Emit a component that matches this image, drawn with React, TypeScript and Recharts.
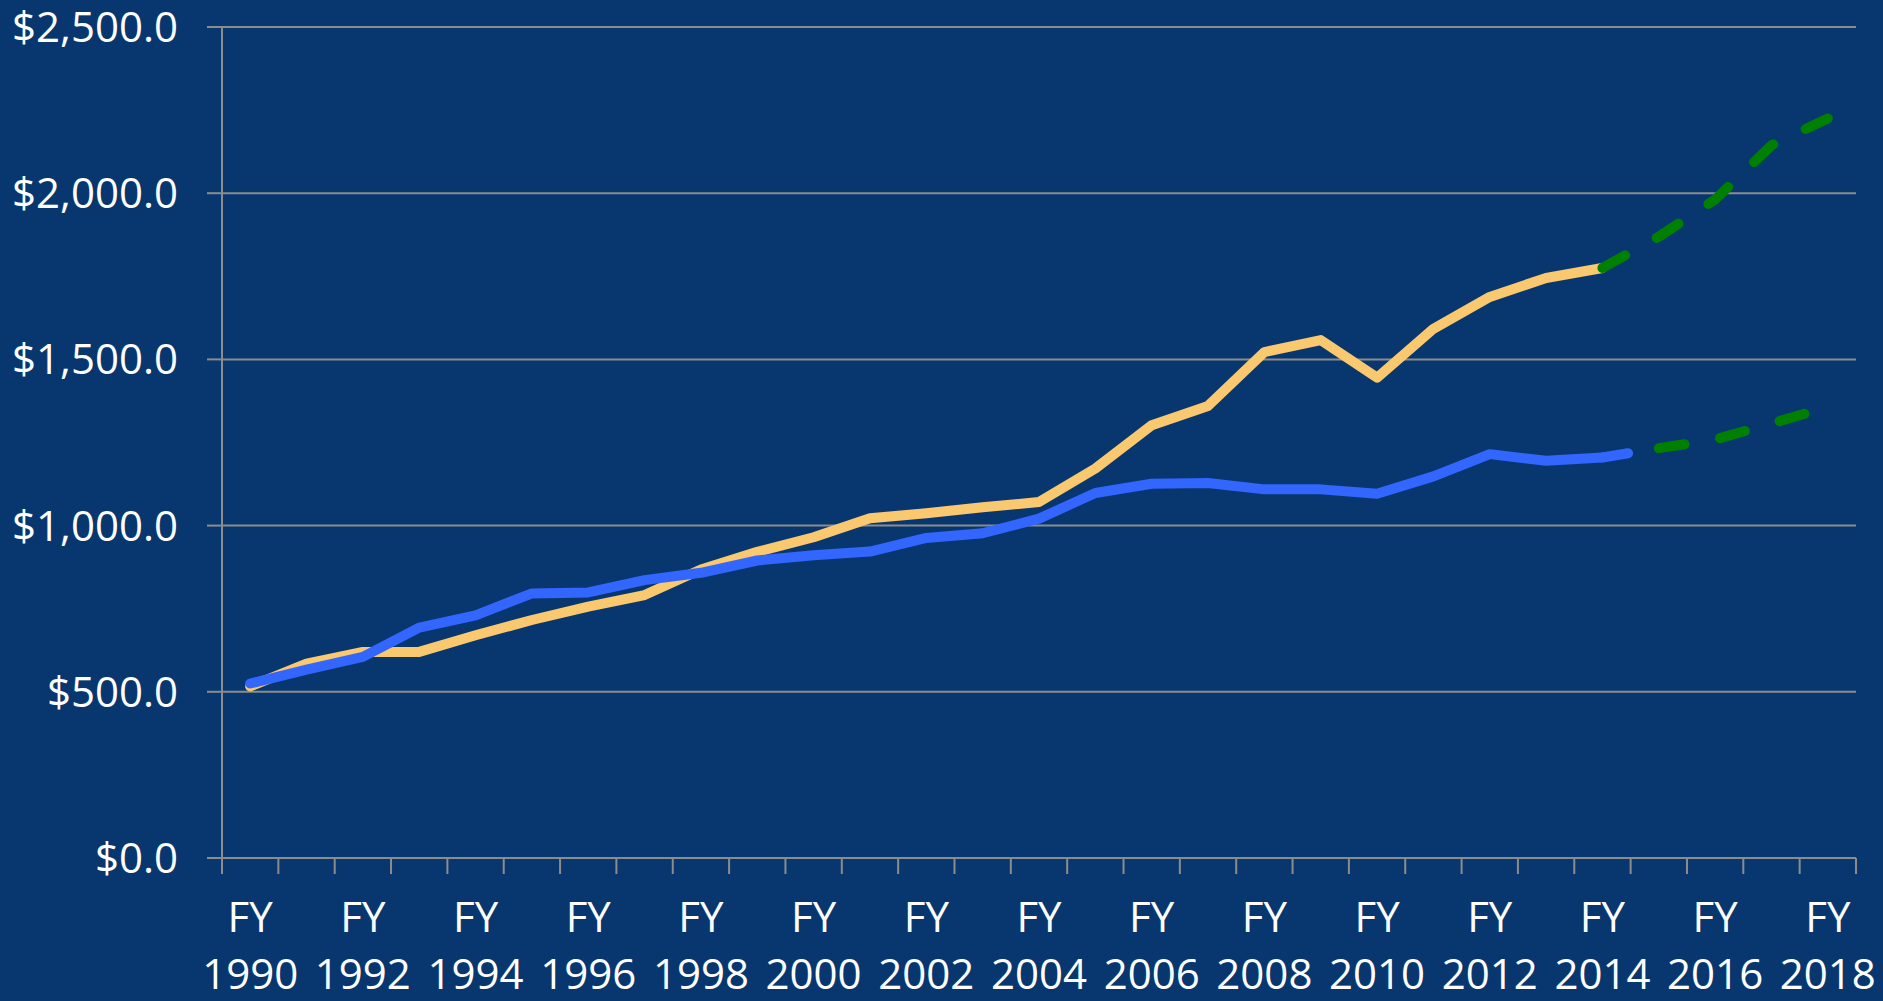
import { LineChart, Line, XAxis, YAxis, CartesianGrid } from 'recharts';

// fiscal years on the category axis
const years = [
  1990, 1991, 1992, 1993, 1994, 1995, 1996, 1997, 1998, 1999,
  2000, 2001, 2002, 2003, 2004, 2005, 2006, 2007, 2008, 2009,
  2010, 2011, 2012, 2013, 2014, 2015, 2016, 2017, 2018,
];

// values in $
const goldLine = [
  516, 585, 620, 620, 670, 716, 756, 791, 868, 921,
  965, 1022, 1037, 1055, 1071, 1172, 1302, 1360, 1522, 1558,
  1445, 1592, 1688, 1745, 1775, null, null, null, null,
];
const blueLine = [
  525, 567, 605, 693, 730, 796, 799, 836, 858, 895,
  911, 922, 963, 977, 1021, 1098, 1126, 1128, 1109, 1109,
  1096, 1148, 1215, 1195, 1205, null, null, null, null,
];
const goldProjection = [
  null, null, null, null, null, null, null, null, null, null,
  null, null, null, null, null, null, null, null, null, null,
  null, null, null, null, 1775, 1869, 1981, 2144, 2225,
];
const blueBridge = [
  null, null, null, null, null, null, null, null, null, null,
  null, null, null, null, null, null, null, null, null, null,
  null, null, null, null, 1205, 1233, null, null, null,
];
const blueProjection = [
  null, null, null, null, null, null, null, null, null, null,
  null, null, null, null, null, null, null, null, null, null,
  null, null, null, null, null, 1233, 1259, 1307, 1357,
];

const yTicks = [0, 500, 1000, 1500, 2000, 2500];
const labelYears = years.filter((y) => y % 2 === 0);
// tick marks sit between the categories, like Excel
const boundaries = [...years.map((y) => y - 0.5), years[years.length - 1] + 0.5];
const xDomain = [boundaries[0], boundaries[boundaries.length - 1]];

const chartData = years.map((year, i) => ({
  year,
  gold: goldLine[i],
  blue: blueLine[i],
  goldProj: goldProjection[i],
  blueBridge: blueBridge[i],
  blueProj: blueProjection[i],
}));

const BG = '#08376f';
const GRID = '#8c8c8c';
const GOLD = '#fac86e';
const BLUE = '#3366ff';
const GREEN = '#008000';
const DASH = '26 36';

const money = (v: number) =>
  `$${v.toLocaleString('en-US', { minimumFractionDigits: 1, maximumFractionDigits: 1 })}`;

function YearTick({ x, y, payload }: any) {
  return (
    <g>
      <text x={x} y={y + 73} textAnchor="middle" fill="#fff" fontSize={42}>
        FY
      </text>
      <text x={x} y={y + 130} textAnchor="middle" fill="#fff" fontSize={42}>
        {payload.value}
      </text>
    </g>
  );
}

const NoTick = () => <g />;

const lineProps = {
  strokeWidth: 10,
  dot: false,
  strokeLinecap: 'round' as const,
  strokeLinejoin: 'round' as const,
  isAnimationActive: false,
};

export default function App() {
  return (
    <div
      style={{
        position: 'absolute',
        left: 0,
        top: 0,
        width: 1883,
        height: 1001,
        background: BG,
        fontFamily: "'Open Sans', sans-serif",
      }}
    >
      <LineChart width={1883} height={1001} data={chartData} margin={{ top: 27, right: 27, bottom: 0, left: 0 }}>
        <CartesianGrid vertical={false} stroke={GRID} strokeWidth={2} xAxisId="axisB" />
        <XAxis
          xAxisId="axisA"
          type="number"
          dataKey="year"
          domain={xDomain}
          ticks={boundaries}
          interval={0}
          height={1}
          tick={NoTick}
          tickSize={16}
          tickLine={{ stroke: GRID, strokeWidth: 2 }}
          axisLine={{ stroke: GRID, strokeWidth: 2 }}
        />
        <XAxis
          xAxisId="axisB"
          type="number"
          dataKey="year"
          domain={xDomain}
          ticks={labelYears}
          interval={0}
          height={142}
          tick={YearTick}
          tickSize={0}
          tickMargin={0}
          tickLine={false}
          axisLine={false}
        />
        <YAxis
          width={222}
          domain={[0, 2500]}
          ticks={yTicks}
          interval={0}
          tickFormatter={money}
          tickSize={15}
          tickMargin={29}
          tick={{ fill: '#fff', fontSize: 42 }}
          tickLine={{ stroke: GRID, strokeWidth: 2 }}
          axisLine={{ stroke: GRID, strokeWidth: 2 }}
        />
        <Line xAxisId="axisA" dataKey="gold" stroke={GOLD} {...lineProps} />
        <Line xAxisId="axisB" dataKey="blue" stroke={BLUE} {...lineProps} />
        <Line xAxisId="axisA" dataKey="goldProj" stroke={GREEN} strokeDasharray={DASH} {...lineProps} />
        <Line xAxisId="axisB" dataKey="blueBridge" stroke={BLUE} strokeDasharray={DASH} {...lineProps} />
        <Line xAxisId="axisB" dataKey="blueProj" stroke={GREEN} strokeDasharray={DASH} {...lineProps} />
      </LineChart>
    </div>
  );
}
